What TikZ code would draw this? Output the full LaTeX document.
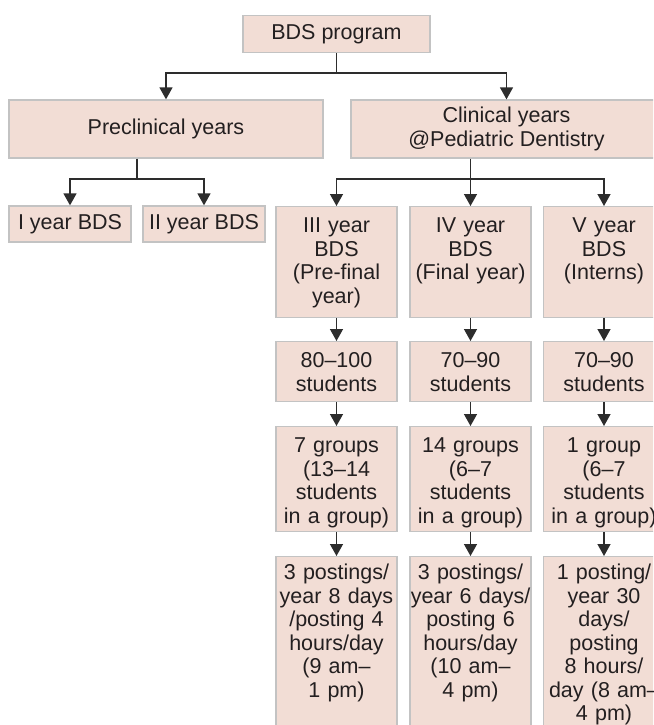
\documentclass[tikz,border=0pt]{standalone}
\usepackage{fontspec}
\setmainfont{Liberation Sans}
\usetikzlibrary{arrows.meta}
\definecolor{cellfill}{RGB}{242,221,213}
\definecolor{cellline}{RGB}{195,195,195}
\definecolor{ink}{RGB}{35,31,32}
\definecolor{wire}{RGB}{45,45,45}

\begin{document}
\begin{tikzpicture}[x=1pt,y=-1pt,font=\fontsize{21.5}{23.5}\selectfont,text=ink,
  box/.style={draw=cellline,fill=cellfill,line width=1.3pt,inner sep=0pt,align=center},
  cell/.style={box,anchor=north,text width=121pt,text height=26pt,text depth=#1},
  arr/.style={draw=wire,line width=1.4pt,-{Triangle[length=12pt,width=13pt]}},
  link/.style={draw=wire,line width=1.4pt}]
\useasboundingbox (0,0) rectangle (653,725);
\clip (0,0) rectangle (653,725);
% top levels
\node[box,minimum width=187pt,minimum height=37pt] (bds) at (336.5,34) {BDS program};
\node[box,minimum width=314pt,minimum height=58pt] (precl) at (166,129) {Preclinical years};
\node[box,minimum width=311pt,minimum height=58pt] (clin) at (506.5,129) {Clinical years\\@Pediatric Dentistry};
\node[box,minimum width=122pt,minimum height=36pt] (yr1) at (70,224) {I year BDS};
\node[box,minimum width=122pt,minimum height=36pt] (yr2) at (204,224) {II year BDS};
% clinical columns
\node[cell=85pt] (yr3) at (336.5,206) {III year\\BDS\\(Pre-final\\year)};
\node[cell=85pt] (yr4) at (470.5,206) {IV year\\BDS\\(Final year)};
\node[cell=85pt] (yr5) at (604,206) {V year\\BDS\\(Interns)};
\node[cell=34pt] (stud3) at (336.5,341) {80–100\\students};
\node[cell=34pt] (stud4) at (470.5,341) {70–90\\students};
\node[cell=34pt] (stud5) at (604,341) {70–90\\students};
\node[cell=79pt] (grp3) at (336.5,426) {7 groups\\(13–14\\students\\in a group)};
\node[cell=79pt] (grp4) at (470.5,426) {14 groups\\(6–7\\students\\in a group)};
\node[cell=79pt] (grp5) at (604,426) {1 group\\(6–7\\students\\in a group)};
\node[cell=190pt,text height=23pt] (post3) at (336.5,556) {3 postings/\\year 8 days\\/posting 4\\hours/day\\(9 am–\\1 pm)};
\node[cell=190pt,text height=23pt] (post4) at (470.5,556) {3 postings/\\year 6 days/\\posting 6\\hours/day\\(10 am–\\4 pm)};
\node[cell=190pt,text height=23pt] (post5) at (604,556) {1 posting/\\year 30\\days/\\posting\\8 hours/\\day (8 am–\\4 pm)};
% connectors
\coordinate (splitA) at (336.5,73);
\coordinate (splitB) at (137,179);
\coordinate (splitC) at (470.5,179);
\draw[link] (bds.south) -- (splitA);
\draw[arr] (splitA) -| (precl.north);
\draw[arr] (splitA) -| (clin.north);
\draw[link] (precl.south -| splitB) -- (splitB);
\draw[arr] (splitB) -| (yr1.north);
\draw[arr] (splitB) -| (yr2.north);
\draw[link] (clin.south -| splitC) -- (splitC);
\foreach \c in {3,4,5} {
  \draw[arr] (splitC) -| (yr\c.north);
  \draw[arr] (yr\c) -- (stud\c);
  \draw[arr] (stud\c) -- (grp\c);
  \draw[arr] (grp\c) -- (post\c);
}
\end{tikzpicture}
\end{document}
